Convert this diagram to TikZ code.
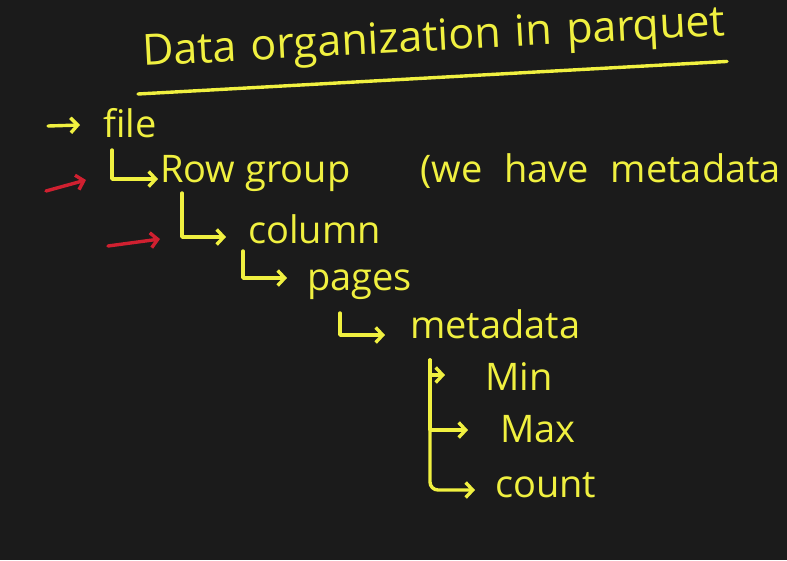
\documentclass[tikz,border=0pt]{standalone}
\usepackage{fontspec}
\setmainfont{Open Sans}
\usetikzlibrary{arrows.meta, calc}

\definecolor{board}{HTML}{1B1B1B}
\definecolor{chalk}{HTML}{F0F040}
\definecolor{marker}{HTML}{D02030}

\tikzset{
  txt/.style={anchor=base west, inner sep=0pt, text=chalk, font=\fontsize{38}{40}\selectfont},
  branch/.style={draw=chalk, line width=3.4pt, line cap=round, line join=round, -{Straight Barb[length=7pt,width=15pt]}},
  redmark/.style={draw=marker, line width=3.4pt, line cap=round, -{Straight Barb[length=7pt,width=15pt]}},
}

\begin{document}
\begin{tikzpicture}[x=1pt, y=-1pt]
\fill[board] (0,0) rectangle (787,560);
\useasboundingbox (0,0) rectangle (787,560);

% Title and underline
\node[txt, font=\fontsize{43}{45}\selectfont, rotate=3] (title) at (143,66) {Data\hspace{3pt} organization\hspace{3pt} in\hspace{3pt} parquet};
\draw[chalk, line width=3.4pt, line cap=round] ($(title.base west)+(-5,28)$) -- ($(title.base east)+(1,26)$);

% Levels
\node[txt] (file) at (103,137) {file};
\node[txt] (rowgroup) at (160,182) {Row group};
\node[txt] (note) at (420,182) {(we\hspace{12pt} have\hspace{12pt} metadata};
\node[txt] (column) at (248,243) {column};
\node[txt] (pages) at (307,290) {pages};
\node[txt] (metadata) at (410,338) {metadata};
\node[txt] (minv) at (485,390) {Min};
\node[txt] (maxv) at (500,442) {Max};
\node[txt] (countv) at (495,497) {count};

% Tree connectors
\coordinate (fileptr) at (48,126);
\draw[branch] (fileptr) -- ($(file.base west)+(-23,-12)$);
\draw[branch] ($(file.base west)+(9,13)$) |- ($(rowgroup.base west)+(-2,-3)$);
\draw[branch] ($(rowgroup.base west)+(22,11)$) |- ($(column.base west)+(-22,-6)$);
\draw[branch] ($(column.base west)+(-5,8)$) |- ($(pages.base west)+(-20,-12)$);
\draw[branch] ($(pages.base west)+(33,23)$) |- ($(metadata.base west)+(-25,-3)$);

% Metadata fields
\coordinate (trunk) at ($(metadata.base west)+(20,22)$);
\draw[branch] (trunk) |- ($(minv.base west)+(-40,-15)$);
\draw[branch] (trunk) |- ($(maxv.base west)+(-32,-12)$);
\draw[branch, rounded corners=8pt] (trunk) |- ($(countv.base west)+(-20,-7)$);

% Red markers
\coordinate (red1a) at (46,191);
\coordinate (red1b) at (86,180);
\coordinate (red2a) at (108,246);
\coordinate (red2b) at (160,239);
\draw[redmark] (red1a) -- (red1b);
\draw[redmark] (red2a) -- (red2b);
\end{tikzpicture}
\end{document}
